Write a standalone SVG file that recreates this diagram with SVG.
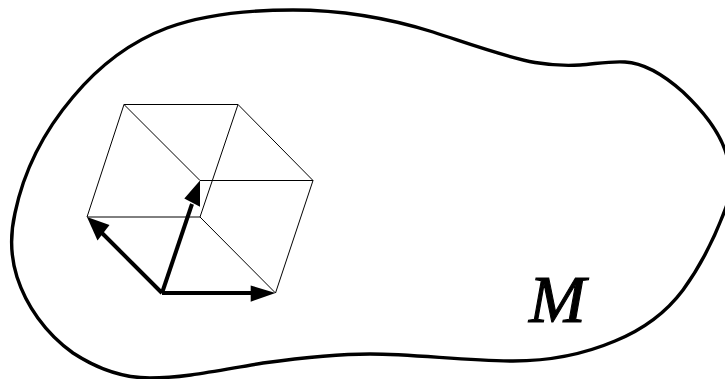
<svg xmlns="http://www.w3.org/2000/svg" width="725" height="379" viewBox="0 0 725 379">
<style>
.outline{fill:none;stroke:#000;stroke-width:3.4;stroke-linejoin:round}
.thin{fill:none;stroke:#000;stroke-width:1}
.vec{fill:none;stroke:#000;stroke-width:4}
.head{fill:#000;stroke:none}
text{font-family:"Liberation Serif","Times New Roman",serif;font-style:italic;font-size:68px;fill:#000;stroke:#000;stroke-width:1.1}
</style>
<rect width="725" height="379" fill="#fff"/>
<g id="manifold">
<path class="outline" d="M293 10C335 10 385 17 433 32C467 43 505 57 535 62.500C550 65 565 66 580 65C595 64 610 61 625 62C645 63 665 76 683 92C702 110 718 130 725 150C732 170 733 190 725 210C716 234 702 264 683 290C665 314 642 330 615 341C582 355 548 361 513 361C465 361 415 354 370 354C335 354 300 358 263 363C220 370 185 378 150 378C122 378 96 368 73 353C45 333 26 305 17 277C10 255 10 235 15 213C24 170 45 130 73 97C98 67 130 42 167 28C205 14 250 10 293 10Z"/>
</g>
<g id="cube">
<path class="thin" d="M124 104.500H238L313 180.500L275.500 293M124 104.500L87 217H200L275.500 293M124 104.500L200 180.500H313M238 104.500L200 217"/>
</g>
<g id="connectors">
<path class="vec" d="M162 293L100 231"/>
<path class="vec" d="M162 293L192 204"/>
<path class="vec" d="M162 293H255"/>
<polygon class="head" points="87,217 109.500,225 97.500,240.500"/>
<polygon class="head" points="200,180.500 200,206.700 184.300,198.500"/>
<polygon class="head" points="275.500,293 250.700,285.500 250.700,301.700"/>
</g>
<text x="529" y="322">M</text>
</svg>
